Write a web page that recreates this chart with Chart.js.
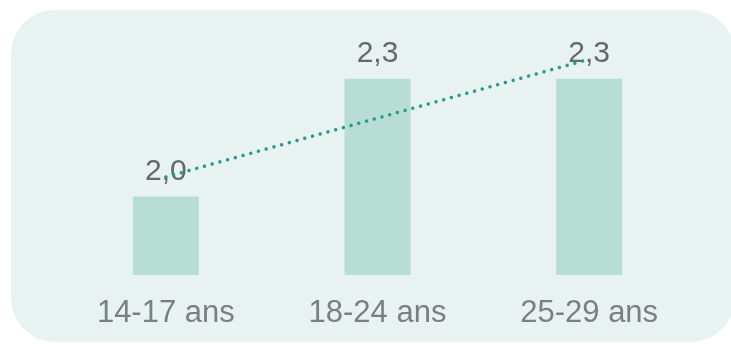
<!DOCTYPE html>
<html>
<head>
<meta charset="utf-8">
<script src="https://cdn.jsdelivr.net/npm/chart.js@4.4.1/dist/chart.umd.min.js"></script>
<style>
  html, body { margin: 0; padding: 0; background: #ffffff; }
  #wrap { width: 731px; height: 344px; position: relative; }
</style>
</head>
<body>
<div id="wrap"><canvas id="c" width="731" height="344"></canvas></div>
<script>
// Age groups and their values
const categories = ['14-17 ans', '18-24 ans', '25-29 ans'];
const values = [2.0, 2.3, 2.3];
// Linear trend across the three groups
const trend = [2.05, 2.2, 2.35];

// Rounded panel behind the whole chart
const panelPlugin = {
  id: 'panel',
  beforeDraw(chart) {
    const ctx = chart.ctx;
    const x = 11, y = 10, w = 724, h = 332, r = 44;
    ctx.save();
    ctx.fillStyle = '#e8f3f1';
    ctx.beginPath();
    ctx.moveTo(x + r, y);
    ctx.lineTo(x + w - r, y);
    ctx.arcTo(x + w, y, x + w, y + r, r);
    ctx.lineTo(x + w, y + h - r);
    ctx.arcTo(x + w, y + h, x + w - r, y + h, r);
    ctx.lineTo(x + r, y + h);
    ctx.arcTo(x, y + h, x, y + h - r, r);
    ctx.lineTo(x, y + r);
    ctx.arcTo(x, y, x + r, y, r);
    ctx.closePath();
    ctx.fill();
    ctx.restore();
  }
};

// Value labels above each bar, drawn before the trend line
const valueLabels = {
  id: 'valueLabels',
  afterDatasetDraw(chart, args) {
    if (args.index !== 0) return;
    const ctx = chart.ctx;
    const meta = chart.getDatasetMeta(0);
    ctx.save();
    ctx.font = '30px "Liberation Sans", Arial, sans-serif';
    ctx.fillStyle = '#646969';
    ctx.textAlign = 'center';
    ctx.textBaseline = 'alphabetic';
    meta.data.forEach((bar, i) => {
      const txt = values[i].toFixed(1).replace('.', ',');
      ctx.fillText(txt, bar.x, bar.y - 17);
    });
    ctx.restore();
  }
};

new Chart(document.getElementById('c'), {
  data: {
    labels: categories,
    datasets: [
      {
        type: 'bar',
        data: values,
        backgroundColor: '#b7ddd5',
        borderWidth: 0,
        barPercentage: 0.312,
        categoryPercentage: 1.0,
        order: 2
      },
      {
        type: 'line',
        data: trend,
        borderColor: '#2a9a90',
        borderWidth: 3.5,
        borderDash: [0.01, 8],
        borderCapStyle: 'round',
        pointRadius: 0,
        fill: false,
        tension: 0,
        order: 1
      }
    ]
  },
  options: {
    responsive: false,
    animation: false,
    events: [],
    layout: { padding: { left: 60, right: 36, top: 20, bottom: 0 } },
    plugins: {
      legend: { display: false },
      tooltip: { enabled: false },
      title: { display: false }
    },
    scales: {
      x: {
        offset: true,
        grid: { display: false, drawTicks: false },
        border: { display: false },
        afterFit(scale) { scale.height = 69; },
        ticks: {
          color: '#7a807f',
          padding: 20,
          font: { family: '"Liberation Sans", Arial, sans-serif', size: 31 }
        }
      },
      y: {
        display: false,
        min: 1.8,
        max: 2.45
      }
    }
  },
  plugins: [panelPlugin, valueLabels]
});
</script>
</body>
</html>
